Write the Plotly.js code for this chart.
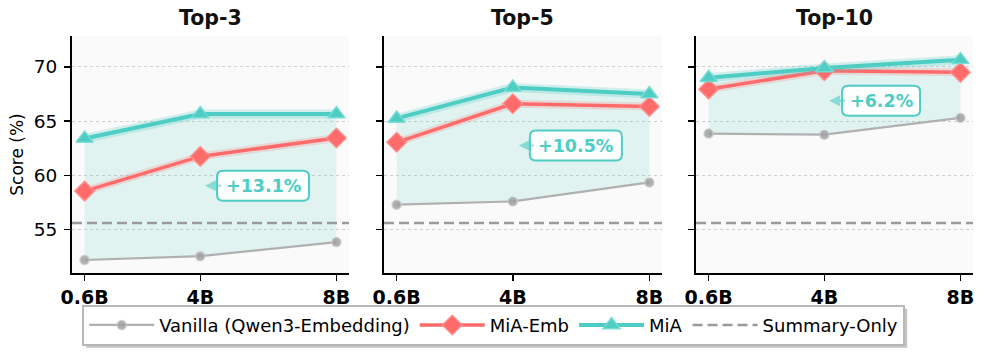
<!DOCTYPE html>
<html>
<head>
<meta charset="utf-8">
<script src="https://cdn.plot.ly/plotly-3.0.1.min.js"></script>
<style>
  html, body { margin: 0; padding: 0; background: #fff; }
  #plot { width: 986px; height: 352px; }
</style>
</head>
<body>
<div id="plot"></div>
<script>
document.addEventListener("DOMContentLoaded", function() {

  const sizes = [0.6, 4, 8];
  const sizeLabels = ['0.6B', '4B', '8B'];
  const panels = ['Top-3', 'Top-5', 'Top-10'];

  const vanilla = [
    [52.2, 52.55, 53.85],
    [57.3, 57.6, 59.35],
    [63.85, 63.75, 65.3]
  ];
  const miaEmb = [
    [58.55, 61.75, 63.45],
    [63.05, 66.6, 66.35],
    [67.95, 69.65, 69.5]
  ];
  const mia = [
    [63.4, 65.65, 65.65],
    [65.25, 68.1, 67.5],
    [69.0, 69.9, 70.65]
  ];
  const summaryOnly = 55.6;
  const gains = ['+13.1%', '+10.5%', '+6.2%'];

  const teal = '#4ECDC4';
  const red = '#FF6B6B';
  const gray = '#B0B0B0';

  const data = [];
  const layout = {
    width: 986,
    height: 352,
    margin: {l: 72, r: 13, t: 36, b: 79, autoexpand: false},
    paper_bgcolor: '#ffffff',
    plot_bgcolor: '#fafafa',
    font: {family: 'DejaVu Sans', size: 18, color: '#000'},
    showlegend: true,
    legend: {
      orientation: 'h',
      x: 0.468, xanchor: 'center',
      y: -0.134, yanchor: 'top',
      bgcolor: '#ffffff',
      bordercolor: '#b8b8b8',
      borderwidth: 2,
      font: {size: 18},
      itemwidth: 65,
      traceorder: 'normal'
    },
    annotations: [],
    shapes: []
  };

  const domains = [[0, 0.3074], [0.3463, 0.6548], [0.6926, 1]];

  panels.forEach(function(name, i) {
    const n = i === 0 ? '' : String(i + 1);
    const xa = 'x' + n, ya = 'y' + n;
    const first = i === 0;

    layout['xaxis' + n] = {
      domain: domains[i],
      anchor: ya,
      range: [0.23, 8.37],
      tickvals: sizes,
      ticktext: sizeLabels,
      tickfont: {size: 19, weight: 'bold'},
      ticks: 'outside', ticklen: 6, tickwidth: 1.5, tickcolor: '#000',
      showline: true, linewidth: 2, linecolor: '#000',
      showgrid: false, zeroline: false
    };
    layout['yaxis' + n] = {
      anchor: xa,
      range: [51, 72.85],
      tickvals: [55, 60, 65, 70],
      showticklabels: first,
      tickfont: {size: 18.5},
      ticks: 'outside', ticklen: 6, tickwidth: 1.5, tickcolor: '#000',
      ticklabelstandoff: 3,
      showline: true, linewidth: 2, linecolor: '#000',
      showgrid: true, gridcolor: '#cfcfcf', griddash: 'dot', gridwidth: 1,
      zeroline: false
    };
    if (first) {
      layout.yaxis.title = {text: 'Score (%)', font: {size: 17}, standoff: 6};
    }

    // shaded gap between vanilla and MiA
    data.push({
      x: sizes, y: vanilla[i], xaxis: xa, yaxis: ya,
      mode: 'lines', line: {width: 0, color: 'rgba(0,0,0,0)'},
      showlegend: false, hoverinfo: 'skip'
    });
    data.push({
      x: sizes, y: mia[i], xaxis: xa, yaxis: ya,
      mode: 'lines', line: {width: 0, color: 'rgba(0,0,0,0)'},
      fill: 'tonexty', fillcolor: 'rgba(78,205,196,0.15)',
      showlegend: false, hoverinfo: 'skip'
    });

    // summary-only baseline
    data.push({
      x: [0.23, 8.37], y: [summaryOnly, summaryOnly], xaxis: xa, yaxis: ya,
      mode: 'lines', name: 'Summary-Only',
      line: {color: '#9a9a9a', width: 2.5, dash: '10px,5px'},
      showlegend: first, legendrank: 4
    });

    data.push({
      x: sizes, y: vanilla[i], xaxis: xa, yaxis: ya,
      mode: 'lines+markers', name: 'Vanilla (Qwen3-Embedding)',
      line: {color: gray, width: 2.2},
      marker: {symbol: 'circle', size: 9, color: 'rgba(160,160,160,0.85)',
               line: {color: 'rgba(200,200,200,0.8)', width: 1.5}},
      showlegend: first, legendrank: 1
    });

    // soft halo under the main lines
    data.push({
      x: sizes, y: miaEmb[i], xaxis: xa, yaxis: ya,
      mode: 'lines', line: {color: 'rgba(255,107,107,0.2)', width: 8},
      showlegend: false, hoverinfo: 'skip'
    });
    data.push({
      x: sizes, y: miaEmb[i], xaxis: xa, yaxis: ya,
      mode: 'lines+markers', name: 'MiA-Emb',
      line: {color: red, width: 3.5},
      marker: {symbol: 'diamond', size: 15, color: red,
               line: {color: 'rgba(255,140,140,0.9)', width: 1.5}},
      showlegend: first, legendrank: 2
    });
    data.push({
      x: sizes, y: mia[i], xaxis: xa, yaxis: ya,
      mode: 'lines', line: {color: 'rgba(78,205,196,0.25)', width: 9},
      showlegend: false, hoverinfo: 'skip'
    });
    data.push({
      x: sizes, y: mia[i], xaxis: xa, yaxis: ya,
      mode: 'lines+markers', name: 'MiA',
      line: {color: teal, width: 4},
      marker: {symbol: 'triangle-up', size: 15, color: teal,
               line: {color: 'rgba(120,220,212,0.9)', width: 1.5}},
      showlegend: first, legendrank: 3
    });

    // panel title
    layout.annotations.push({
      text: '<b>' + name + '</b>',
      xref: xa + ' domain', yref: 'paper',
      x: 0.5, y: 1.075, xanchor: 'center', yanchor: 'middle',
      showarrow: false, font: {size: 20.5, color: '#111'}
    });
  });

  // gain callouts: rounded box (pixel-sized shape) plus arrow text
  const calloutX = [4.14, 4.18, 4.14];
  const calloutY = [59.05, 62.75, 66.87];
  const calloutAx = [58, 57, 52];
  const boxHalfW = [46, 46, 39];
  gains.forEach(function(g, i) {
    const n = i === 0 ? '' : String(i + 1);
    const xa = 'x' + n, ya = 'y' + n;
    const w = boxHalfW[i], h = 15, r = 6;
    const cx = calloutAx[i];
    const path = 'M' + (cx - w + r) + ',' + (-h) +
      ' L' + (cx + w - r) + ',' + (-h) +
      ' Q' + (cx + w) + ',' + (-h) + ' ' + (cx + w) + ',' + (-h + r) +
      ' L' + (cx + w) + ',' + (h - r) +
      ' Q' + (cx + w) + ',' + h + ' ' + (cx + w - r) + ',' + h +
      ' L' + (cx - w + r) + ',' + h +
      ' Q' + (cx - w) + ',' + h + ' ' + (cx - w) + ',' + (h - r) +
      ' L' + (cx - w) + ',' + (-h + r) +
      ' Q' + (cx - w) + ',' + (-h) + ' ' + (cx - w + r) + ',' + (-h) + ' Z';
    layout.shapes.push({
      type: 'path', xref: xa, yref: ya,
      xsizemode: 'pixel', ysizemode: 'pixel',
      xanchor: calloutX[i], yanchor: calloutY[i],
      path: path,
      fillcolor: 'rgba(255,255,255,0.92)',
      line: {color: teal, width: 2},
      layer: 'above'
    });
    layout.annotations.push({
      text: '<b>' + g + '</b>',
      xref: xa, yref: ya,
      x: calloutX[i], y: calloutY[i],
      ax: cx, ay: 0,
      showarrow: true, arrowhead: 2, arrowsize: 1.1, arrowwidth: 2,
      arrowcolor: 'rgba(78,205,196,0.6)',
      font: {size: 17.5, color: teal},
      borderpad: 4
    });
  });

  Plotly.newPlot('plot', data, layout, {displayModeBar: false, staticPlot: true}).then(function(gd) {
    // drop shadow behind the legend box, sized from the drawn legend
    const bg = gd.querySelector('.legend .bg');
    if (!bg) return;
    const box = bg.getBoundingClientRect();
    const root = gd.getBoundingClientRect();
    const fs = gd._fullLayout._size;
    const px = function(v) { return (v - root.left - fs.l) / fs.w; };
    const py = function(v) { return 1 - (v - root.top - fs.t) / fs.h; };
    const shapes = layout.shapes.concat([{
      type: 'rect', xref: 'paper', yref: 'paper',
      x0: px(box.left + 3), x1: px(box.right + 3),
      y0: py(box.bottom + 3), y1: py(box.top + 3),
      fillcolor: '#c4c4c4', line: {width: 0}, layer: 'below'
    }]);
    Plotly.relayout(gd, {shapes: shapes});
  });
});
</script>
</body>
</html>
